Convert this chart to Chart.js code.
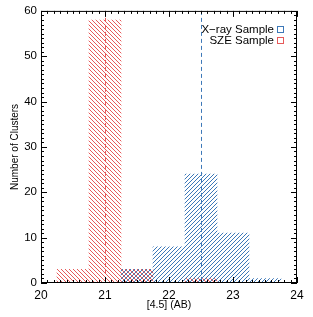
<!DOCTYPE html>
<html lang="en">
<head>
  <meta charset="UTF-8">
  <title>[4.5] magnitude histogram</title>
  <script src="https://cdn.jsdelivr.net/npm/chart.js@4.4.1/dist/chart.umd.min.js"></script>
  <style>
    body { margin: 0; background: #fff; }
    #wrap { width: 313px; height: 317px; }
  </style>
</head>
<body>
  <div id="wrap"><canvas id="histChart" width="313" height="317"></canvas></div>

  <script>
    // bin centres (bins are 0.5 mag wide)
    const binCentres = [20.5, 21.0, 21.5, 22.0, 22.5, 23.0, 23.5];
    const xrayCounts = [0, 0, 3, 8, 24, 11, 1];
    const szeCounts  = [3, 58, 3, 0, 1, 0, 0];
    const seriesNames = ['X\u2212ray Sample', 'SZE Sample'];
    const medians = [22.5, 21.0];      // dashed lines, x-ray then SZE
    const xTicks = [20, 21, 22, 23, 24];
    const yTicks = [0, 10, 20, 30, 40, 50, 60];

    const xrayCol = '#3d78b8';
    const szeCol = '#e65a5a';
    const font = '"Liberation Sans", Arial, sans-serif';

    function hatch(colour, dir) {
      const c = document.createElement('canvas');
      c.width = c.height = 4;
      const g = c.getContext('2d');
      g.strokeStyle = colour;
      g.lineWidth = 1;
      g.beginPath();
      if (dir === '/') {
        g.moveTo(0, 4); g.lineTo(4, 0);
        g.moveTo(-1, 1); g.lineTo(1, -1);
        g.moveTo(3, 5); g.lineTo(5, 3);
      } else {
        g.moveTo(0, 0); g.lineTo(4, 4);
        g.moveTo(-1, 3); g.lineTo(1, 5);
        g.moveTo(3, -1); g.lineTo(5, 1);
      }
      g.stroke();
      return g.createPattern(c, 'repeat');
    }

    const toPoints = arr => arr.map((v, i) => ({ x: binCentres[i], y: v }));

    // frame, inward ticks, median lines and the corner legend
    const decor = {
      id: 'decor',
      afterDatasetsDraw(chart) {
        const { ctx, chartArea: a, scales: { x, y } } = chart;
        ctx.save();

        // median lines
        [[medians[1], szeCol], [medians[0], xrayCol]].forEach(([m, col]) => {
          const px = Math.round(x.getPixelForValue(m)) + 0.5;
          ctx.strokeStyle = col;
          ctx.lineWidth = 1;
          ctx.setLineDash([4, 3]);
          ctx.beginPath();
          ctx.moveTo(px, a.top);
          ctx.lineTo(px, a.bottom);
          ctx.stroke();
        });
        ctx.setLineDash([]);

        // box
        ctx.strokeStyle = '#000';
        ctx.lineWidth = 1;
        ctx.strokeRect(a.left + 0.5, a.top + 0.5, a.right - a.left - 1, a.bottom - a.top - 1);

        // x ticks, every 0.1
        ctx.beginPath();
        for (let i = 0; i <= 40; i++) {
          const v = xTicks[0] + i * 0.1;
          const px = Math.round(x.getPixelForValue(v)) + 0.5;
          const len = i % 10 === 0 ? 6 : 3;
          ctx.moveTo(px, a.bottom); ctx.lineTo(px, a.bottom - len);
          ctx.moveTo(px, a.top); ctx.lineTo(px, a.top + len);
        }
        // y ticks, every 1
        for (let v = 0; v <= 60; v++) {
          const py = Math.round(y.getPixelForValue(v)) + 0.5;
          const len = v % 10 === 0 ? 6 : 3;
          ctx.moveTo(a.left, py); ctx.lineTo(a.left + len, py);
          ctx.moveTo(a.right, py); ctx.lineTo(a.right - len, py);
        }
        ctx.stroke();

        // legend
        ctx.font = '11.5px ' + font;
        ctx.textAlign = 'right';
        ctx.textBaseline = 'middle';
        [[seriesNames[0], xrayCol, 30], [seriesNames[1], szeCol, 41]].forEach(([t, col, ty]) => {
          ctx.fillStyle = '#000';
          ctx.fillText(t, a.right - 23, ty);
          ctx.strokeStyle = col;
          ctx.strokeRect(a.right - 19.5, ty - 3.5, 6, 6);
        });
        ctx.restore();
      }
    };

    const ctx = document.getElementById('histChart').getContext('2d');
    new Chart(ctx, {
      type: 'bar',
      data: {
        datasets: [
          {
            label: seriesNames[1],
            data: toPoints(szeCounts),
            backgroundColor: hatch(szeCol, '\\'),
            borderWidth: 0
          },
          {
            label: seriesNames[0],
            data: toPoints(xrayCounts),
            backgroundColor: hatch(xrayCol, '/'),
            borderWidth: 0
          }
        ]
      },
      options: {
        responsive: false,
        animation: false,
        events: [],
        grouped: false,
        barPercentage: 1,
        categoryPercentage: 1,
        layout: { padding: { top: 10, right: 16, left: 0, bottom: 0 } },
        plugins: { legend: { display: false }, tooltip: { enabled: false } },
        scales: {
          x: {
            type: 'linear',
            min: 20, max: 24,
            offset: false,
            grid: { display: false, drawTicks: false },
            border: { display: false },
            afterBuildTicks: s => { s.ticks = xTicks.map(v => ({ value: v })); },
            afterFit: s => { s.height = 34; },
            ticks: { color: '#000', padding: 5, font: { family: font, size: 12 } },
            title: { display: true, text: '[4.5] (AB)', color: '#000', padding: { bottom: 6 }, font: { family: font, size: 10.5 } }
          },
          y: {
            min: 0, max: 60,
            grid: { display: false, drawTicks: false },
            border: { display: false },
            afterBuildTicks: s => { s.ticks = yTicks.map(v => ({ value: v })); },
            afterFit: s => { s.width = 41; },
            ticks: { color: '#000', padding: 4, font: { family: font, size: 11.5 } },
            title: { display: true, text: 'Number of Clusters', color: '#000', padding: { top: 9 }, font: { family: font, size: 10 } }
          }
        }
      },
      plugins: [decor]
    });
  </script>
</body>
</html>
